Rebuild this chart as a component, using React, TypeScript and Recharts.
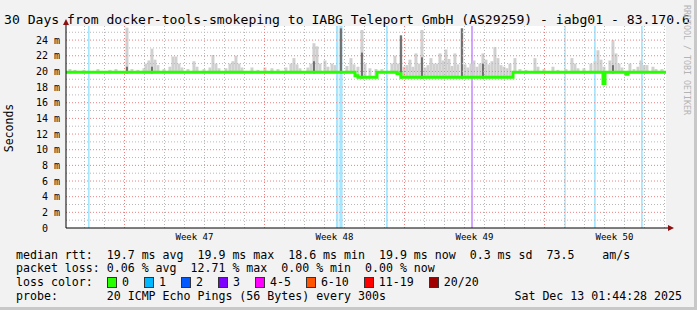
import React from 'react';
import { ComposedChart, Bar, Line, XAxis, YAxis, CartesianGrid, ReferenceLine, ReferenceArea, Cell } from 'recharts';

// x values are days since the start of the 30 day window (Nov 13 01:44)
const weekLabels = ['Week 47', 'Week 48', 'Week 49', 'Week 50'];
const weekCenters = [6.425, 13.425, 20.425, 27.425];
const weekStarts = [2.925, 9.925, 16.925, 23.925];
const yTicks = [0, 2, 4, 6, 8, 10, 12, 14, 16, 18, 20, 22, 24];
const yMinor = [1, 3, 5, 7, 9, 11, 13, 15, 17, 19, 21, 23, 25];

// smoke (rtt spread), top of each column in ms
const smokeDays = [
  0.2, 0.45, 0.9, 1.6, 2.2, 2.5, 3.05, 3.3, 3.6, 3.9, 4.0, 4.15, 4.3, 4.45, 4.6, 4.9,
  5.2, 5.35, 5.5, 5.65, 5.8, 6.1, 6.4, 6.55, 6.9, 7.2, 7.35, 7.5, 7.65, 8.0, 8.2, 8.35,
  8.5, 8.65, 8.8, 9.3, 9.6, 9.95, 10.3, 10.6, 11.0, 11.25, 11.4, 11.55, 11.7, 12.1, 12.25, 12.4,
  12.55, 12.7, 12.95, 13.1, 13.3, 13.45, 13.75, 14.05, 14.25, 14.4, 14.6, 14.8, 14.95, 15.2,
  15.5, 15.8, 16.3, 16.45, 16.6, 16.75, 16.9, 17.05, 17.2, 17.35, 17.5, 17.65, 17.8, 17.95,
  18.1, 18.25, 18.4, 18.55, 18.7, 18.85, 19.0, 19.15, 19.3, 19.45, 19.6, 19.8, 19.95, 20.1,
  20.25, 20.4, 20.55, 20.7, 20.85, 21.0, 21.15, 21.3, 21.45, 21.6, 21.75, 21.9, 22.05, 22.2,
  22.45, 22.7, 23.0, 23.45, 23.6, 23.9, 24.35, 24.6, 25.0, 25.3, 25.45, 25.6, 25.9, 26.25,
  26.45, 26.6, 26.75, 26.9, 27.2, 27.35, 27.5, 27.65, 27.8, 28.2, 28.4, 28.6, 28.75, 28.9,
  29.05, 29.35, 29.5, 29.8,
];
const smokeTops = [
  20.3, 20.2, 20.2, 20.3, 20.2, 20.3, 25.6, 20.3, 20.2, 20.4, 21.0, 21.4, 22.9, 21.5, 20.8, 20.3,
  20.6, 21.9, 21.9, 21.0, 20.5, 20.3, 21.3, 20.6, 20.3, 20.5, 22.1, 21.0, 20.4, 20.4, 21.0, 21.3,
  22.0, 21.0, 20.5, 20.5, 20.2, 20.5, 20.4, 20.3, 20.5, 21.0, 21.7, 20.9, 20.4, 20.5, 21.0, 23.6,
  23.2, 21.0, 21.4, 20.6, 21.0, 20.8, 25.5, 20.7, 21.7, 20.9, 20.6, 25.3, 21.0, 20.4,
  20.3, 20.3, 21.0, 22.0, 21.0, 24.6, 20.6, 20.8, 21.5, 20.6, 22.3, 21.0, 25.3, 20.5,
  20.8, 21.7, 21.0, 21.0, 22.3, 21.4, 22.8, 21.6, 20.7, 22.3, 20.9, 25.5, 20.9, 20.5,
  21.0, 21.4, 20.6, 21.0, 22.3, 21.5, 20.9, 21.3, 23.1, 21.7, 20.8, 20.6, 20.4, 21.0,
  21.7, 20.3, 20.2, 21.7, 20.6, 20.3, 20.6, 20.2, 20.3, 21.7, 21.0, 20.4, 20.4, 21.0,
  21.3, 22.7, 21.5, 20.6, 21.4, 24.0, 22.3, 21.0, 20.5, 21.0, 20.3, 20.6, 21.4, 20.8,
  20.8, 20.6, 20.3, 20.3,
];
// darker core of the smoke (many pings spread)
const darkDays = [3.05, 4.3, 12.4, 13.75, 14.8, 16.75, 17.8, 19.8, 20.85, 27.35];
const darkTops = [20.6, 20.6, 21.3, 25.5, 22.4, 24.6, 21.8, 25.5, 21.0, 20.8];

// median rtt, step changes
const medianDays = [0, 14.45, 14.6, 15.55, 16.55, 16.75, 22.35, 26.85, 26.95, 28.0, 28.1, 30];
const medianValues = [19.9, 19.45, 19.25, 19.9, 19.7, 19.25, 19.9, 18.45, 19.9, 19.65, 19.9, 19.9];

// packet loss events
const lossStart = [1.1, 13.5, 13.67, 16.0, 20.25, 24.92, 26.4, 28.75];
const lossEnd = [1.18, 13.62, 13.83, 16.09, 20.35, 24.99, 26.49, 28.84];
const lossLevel = [1, 1, 1, 1, 3, 1, 1, 1];

const lossColors = ['#26ff00', '#00b8ff', '#0059ff', '#7e00ff', '#ff00ff', '#ff5500', '#ff0000', '#a10000'];
const lossLabels = ['0', '1', '2', '3', '4-5', '6-10', '11-19', '20/20'];

const medianAt = (t: number) => {
  let v = medianValues[0];
  medianDays.forEach((d, i) => {
    if (d <= t) v = medianValues[i];
  });
  return v;
};

const rows = [
  ...smokeDays.map((t, i) => ({ t, range: [medianAt(t) - 0.15, smokeTops[i]], dark: false })),
  ...darkDays.map((t, i) => ({ t, range: [medianAt(t) - 0.15, darkTops[i]], dark: true })),
].sort((a, b) => a.t - b.t || Number(a.dark) - Number(b.dark));

const medianData = medianDays.map((t, i) => ({ t, median: medianValues[i] }));

const dayLines = Array.from({ length: 30 }, (_, i) => 0.925 + i);

// fixed-width smoke column centred on the bar slot the scale gives
const SmokeColumn = (p: any) => {
  const w = p.payload && p.payload.dark ? 2 : 3;
  const cx = p.x + p.width / 2;
  return <rect x={cx - w / 2} y={p.y} width={w} height={Math.max(p.height, 0)} fill={p.fill} />;
};

const mono = '"DejaVu Sans Mono", monospace';
const textLine: React.CSSProperties = {
  position: 'absolute',
  left: 16,
  fontFamily: mono,
  fontSize: 11.6,
  lineHeight: '14px',
  whiteSpace: 'pre',
  color: '#000',
};

export default function App() {
  return (
    <div style={{ position: 'absolute', left: 0, top: 0, width: 697, height: 310, background: '#f2f2f2', overflow: 'hidden' }}>
      <ComposedChart width={697} height={310} data={rows} margin={{ top: 26, right: 31, bottom: 62, left: 6 }}>
        <CartesianGrid fill="#ffffff" horizontal={false} vertical={false} />
        <XAxis
          dataKey="t"
          type="number"
          domain={[0, 30]}
          ticks={weekCenters}
          tickFormatter={(v: number) => weekLabels[weekCenters.indexOf(v)]}
          height={20}
          tickLine={false}
          tickSize={0}
          tickMargin={6}
          axisLine={{ stroke: '#000' }}
          tick={{ fill: '#000', fontFamily: mono, fontSize: 9 }}
          interval={0}
          allowDataOverflow
        />
        <YAxis
          type="number"
          domain={[0, 25.8]}
          ticks={yTicks}
          tickFormatter={(v: number) => (v === 0 ? '0\u00a0\u00a0' : `${v} m`)}
          width={60}
          tickLine={false}
          tickSize={0}
          tickMargin={6}
          axisLine={{ stroke: '#000' }}
          tick={{ fill: '#000', fontFamily: mono, fontSize: 10 }}
          interval={0}
          allowDataOverflow
        />
        {yMinor.map((v) => (
          <ReferenceLine key={`ym${v}`} y={v} stroke="#b8b8b8" strokeDasharray="1 2" />
        ))}
        {dayLines.map((v) => (
          <ReferenceLine key={`xm${v}`} x={v} stroke="#b8b8b8" strokeDasharray="1 2" />
        ))}
        {yTicks.slice(1).map((v) => (
          <ReferenceLine key={`yM${v}`} y={v} stroke="#ec8080" strokeDasharray="1 2" />
        ))}
        {weekStarts.map((v) => (
          <ReferenceLine key={`xM${v}`} x={v} stroke="#ec8080" strokeDasharray="1 2" />
        ))}
        {lossStart.map((s, i) => (
          <ReferenceArea
            key={`loss${i}`}
            x1={s}
            x2={lossEnd[i]}
            y1={0}
            y2={25.8}
            fill={lossColors[lossLevel[i]]}
            fillOpacity={0.35}
            stroke="none"
          />
        ))}
        <Bar dataKey="range" barSize={2} shape={SmokeColumn} isAnimationActive={false}>
          {rows.map((r, i) => (
            <Cell key={i} fill={r.dark ? '#707070' : '#d0d0d0'} />
          ))}
        </Bar>
        <Line
          data={medianData}
          dataKey="median"
          type="stepAfter"
          stroke="#26ff00"
          strokeWidth={3}
          dot={false}
          activeDot={false}
          isAnimationActive={false}
        />
      </ComposedChart>

      {/* axis arrows */}
      <svg style={{ position: 'absolute', left: 0, top: 0 }} width={697} height={310}>
        <line x1={66} y1={26} x2={66} y2={22} stroke="#000" />
        <polygon points="63,25 69,25 66,19" fill="#8b1010" />
        <line x1={666} y1={228} x2={670} y2={228} stroke="#000" />
        <polygon points="668,225 668,231 674,228" fill="#8b1010" />
      </svg>

      <div style={{ position: 'absolute', left: 4, top: 12, fontFamily: mono, fontSize: 13.1, lineHeight: '16px', whiteSpace: 'pre' }}>
        30 Days from docker-tools-smokeping to IABG Teleport GmbH (AS29259) - iabg01 - 83.170.6
      </div>
      <div
        style={{
          position: 'absolute',
          left: 9,
          top: 128,
          transform: 'translate(-50%, -50%) rotate(-90deg)',
          fontFamily: mono,
          fontSize: 11.5,
          whiteSpace: 'pre',
        }}
      >
        Seconds
      </div>
      <div
        style={{
          position: 'absolute',
          left: 687,
          top: 60,
          transform: 'translate(-50%, -50%) rotate(90deg)',
          fontFamily: mono,
          fontSize: 8.3,
          color: '#b4b4b4',
          whiteSpace: 'pre',
        }}
      >
        RRDTOOL / TOBI OETIKER
      </div>

      <div style={{ ...textLine, top: 247.5 }}>
        {'median rtt:  19.7 ms avg  19.9 ms max  18.6 ms min  19.9 ms now  0.3 ms sd  73.5    am/s'}
      </div>
      <div style={{ ...textLine, top: 261.3 }}>
        {'packet loss: 0.06 % avg  12.71 % max  0.00 % min  0.00 % now'}
      </div>
      <div style={{ ...textLine, top: 275, display: 'flex', alignItems: 'center' }}>
        <span style={{ width: 91 }}>loss color:</span>
        {lossLabels.map((l, i) => (
          <span key={l} style={{ display: 'flex', alignItems: 'center' }}>
            <span
              style={{
                width: 8,
                height: 9,
                background: lossColors[i],
                border: '1px solid #333',
                marginRight: 5,
              }}
            />
            <span style={{ marginRight: 15 }}>{l}</span>
          </span>
        ))}
      </div>
      <div style={{ ...textLine, top: 289 }}>{'probe:       20 ICMP Echo Pings (56 Bytes) every 300s'}</div>
      <div style={{ ...textLine, left: undefined, right: 15, top: 289 }}>{'Sat Dec 13 01:44:28 2025'}</div>

      <div style={{ position: 'absolute', right: 0, top: 0, width: 3, height: 310, background: '#c8c8c8' }} />
      <div style={{ position: 'absolute', left: 0, bottom: 0, width: 697, height: 3, background: '#c8c8c8' }} />
    </div>
  );
}
